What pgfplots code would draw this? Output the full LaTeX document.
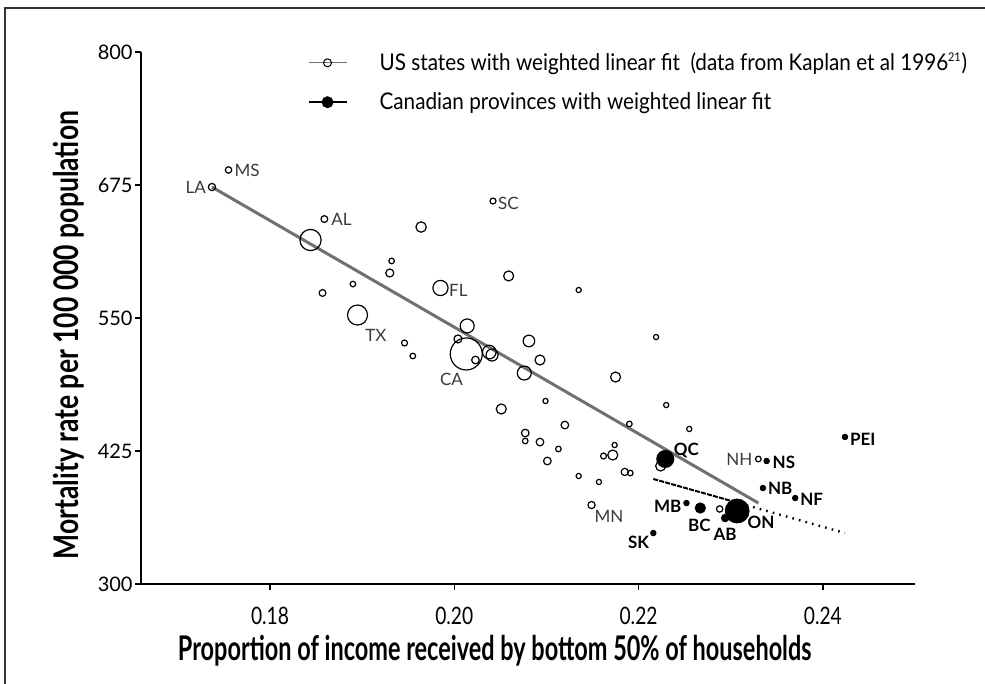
\documentclass[border=0pt]{standalone}
\usepackage{pgfplots}
\pgfplotsset{compat=1.18}
\usepackage{fontspec}
\setmainfont{Lato}
\usepackage{graphicx}

\definecolor{fitgray}{HTML}{707070}
\definecolor{labgray}{HTML}{3A3A3A}

\begin{document}
\begin{tikzpicture}
\useasboundingbox (-70.5pt,-50pt) rectangle (422pt,292pt);
\draw[black!80, line width=0.9pt] (-68pt,-55pt) -- (-68pt,288pt) -- (425pt,288pt);
\begin{axis}[
  scale only axis, width=387pt, height=266pt,
  xmin=0.166, xmax=0.25, ymin=300, ymax=800,
  axis x line*=bottom, axis y line*=left,
  axis line style={-, line width=0.75pt},
  tick align=outside, major tick length=3pt,
  tick style={line width=0.75pt, black},
  xtick={0.18,0.20,0.22,0.24},
  xticklabels={\scalebox{0.8}[1]{0.18},\scalebox{0.8}[1]{0.20},\scalebox{0.8}[1]{0.22},\scalebox{0.8}[1]{0.24}},
  ytick={300,425,550,675,800},
  /pgf/number format/assume math mode=true,
  xticklabel style={font=\fontsize{12}{14}\selectfont, yshift=-5pt},
  yticklabel style={font=\fontsize{10}{12}\selectfont, inner sep=1pt},
  xlabel={\scalebox{0.69}[1]{Proportion of income received by bottom 50\% of households}},
  ylabel={\scalebox{0.78}[1]{Mortality rate per 100 000 population}},
  xlabel style={font=\fontsize{17}{19}\bfseries, at={(axis description cs:0.457,-0.126)}, anchor=center},
  ylabel style={font=\fontsize{17}{19}\bfseries, at={(axis description cs:-0.094,0.468)}, anchor=center},
  legend image code/.code={\draw[mark repeat=2,mark phase=2,#1] plot coordinates {(0pt,0pt) (9.5pt,0pt) (19pt,0pt)};},
  legend style={at={(axis description cs:0.2145,1.0)}, anchor=north west, draw=none, fill=none,
    inner sep=0pt, row sep=9.5pt, font=\fontsize{11.5}{13}\selectfont,
    nodes={inner sep=0pt},
    /tikz/every odd column/.append style={column sep=16pt}},
  legend cell align=left,
  clip=false,
]
\addlegendimage{fitgray, line width=0.6pt, mark=o, mark size=2pt, mark options={black, solid, line width=0.5pt, fill=white}}
\addlegendentry{\scalebox{0.9}[1]{US states with weighted linear fit\hspace{0.5em}(data from Kaplan et al 1996\textsuperscript{\fontsize{6}{7}\selectfont 21})}}
\addlegendimage{black, line width=1.1pt, mark=*, mark size=2.4pt, mark options={black}}
\addlegendentry{\scalebox{0.9}[1]{Canadian provinces with weighted linear fit}}

% US states, radius in pt
\addplot[forget plot, only marks, scatter, mark=o, point meta=\thisrow{r},
  scatter/use mapped color={draw=black},
  visualization depends on={\thisrow{r} \as \rad},
  scatter/@pre marker code/.append style={/tikz/mark size=\rad},
  mark options={line width=0.6pt}] table {
x y r
0.1737 673.1 1.8
0.1755 689.1 1.6
0.1859 643.0 1.7
0.1844 623.3 5.3
0.1857 573.5 1.7
0.1890 581.9 1.4
0.1895 552.8 5.0
0.2042 659.9 1.5
0.1964 635.5 2.6
0.1932 603.6 1.4
0.1930 592.3 2.0
0.2059 589.5 2.5
0.2135 576.3 1.3
0.1985 578.2 3.8
0.2014 542.5 3.5
0.2004 530.3 2.0
0.2081 528.4 2.9
0.1946 526.5 1.5
0.1955 514.3 1.4
0.2013 516.2 8.0
0.2023 510.5 1.9
0.2038 518.0 3.4
0.2041 515.2 3.0
0.2093 510.5 2.5
0.2076 498.3 3.5
0.2219 532.1 1.3
0.2175 494.5 2.5
0.2099 472.0 1.3
0.2051 464.5 2.5
0.2120 449.4 1.9
0.2190 450.4 1.4
0.2077 441.9 1.9
0.2077 434.4 1.4
0.2093 433.4 1.9
0.2113 426.9 1.4
0.2174 430.6 1.3
0.2162 420.3 1.5
0.2172 421.2 2.5
0.2101 415.6 1.9
0.2135 401.5 1.3
0.2157 395.9 1.3
0.2185 405.3 1.8
0.2191 404.3 1.4
0.2149 374.2 1.8
0.2230 468.2 1.3
0.2255 445.7 1.3
0.2224 410.9 2.5
0.2330 417.5 1.4
0.2288 370.5 1.6
};

% US weighted fit
\addplot[forget plot, fitgray, line width=1.5pt] coordinates {(0.1737,673.1) (0.2330,376.1)};

% Canadian fit
\addplot[forget plot, black, line width=1pt, dash pattern=on 2.5pt off 0.6pt] coordinates {(0.2216,398.7) (0.2303,377.5)};
\addplot[forget plot, black, line width=1.2pt, dash pattern=on 0.8pt off 2.6pt] coordinates {(0.2303,377.5) (0.2424,347.9)};

% Canadian provinces
\addplot[forget plot, only marks, scatter, mark=*, point meta=\thisrow{r},
  scatter/use mapped color={draw=black, fill=black},
  visualization depends on={\thisrow{r} \as \rad},
  scatter/@pre marker code/.append style={/tikz/mark size=\rad}] table {
x y r
0.2229 417.5 4.3
0.2339 415.6 1.4
0.2335 390.2 1.4
0.2370 380.8 1.4
0.2424 438.2 1.4
0.2252 376.1 1.4
0.2267 371.4 2.6
0.2307 368.6 6.0
0.2294 362.0 1.9
0.2216 347.9 1.4
};

\begin{scope}[font=\fontsize{8.5}{10}\selectfont, text=labgray]
\node[anchor=east, inner sep=0.5pt] at (axis cs:0.1732,673) {LA};
\node[anchor=west, inner sep=0.5pt] at (axis cs:0.1760,689) {MS};
\node[anchor=west, inner sep=0.5pt] at (axis cs:0.1865,643) {AL};
\node at (axis cs:0.1915,534) {TX};
\node[anchor=west, inner sep=0.5pt] at (axis cs:0.1993,576) {FL};
\node[anchor=west, inner sep=0.5pt] at (axis cs:0.2046,658) {SC};
\node at (axis cs:0.1997,492.7) {CA};
\node at (axis cs:0.2168,363.9) {MN};
\node[anchor=east, inner sep=0.5pt] at (axis cs:0.2325,417.5) {NH};
\end{scope}
\begin{scope}[font=\fontsize{8.5}{10}\selectfont\bfseries]
\node at (axis cs:0.2252,425.9) {QC};
\node[anchor=west, inner sep=0.5pt] at (axis cs:0.2344,414.7) {NS};
\node[anchor=west, inner sep=0.5pt] at (axis cs:0.2339,390.2) {NB};
\node[anchor=west, inner sep=0.5pt] at (axis cs:0.2374,379.9) {NF};
\node[anchor=west, inner sep=0.5pt] at (axis cs:0.2428,436.3) {PEI};
\node[anchor=east, inner sep=0.5pt] at (axis cs:0.2248,373.3) {MB};
\node at (axis cs:0.2266,355.4) {BC};
\node at (axis cs:0.2294,347) {AB};
\node at (axis cs:0.2333,358.3) {ON};
\node at (axis cs:0.2200,339.5) {SK};
\end{scope}
\end{axis}
\end{tikzpicture}
\end{document}
